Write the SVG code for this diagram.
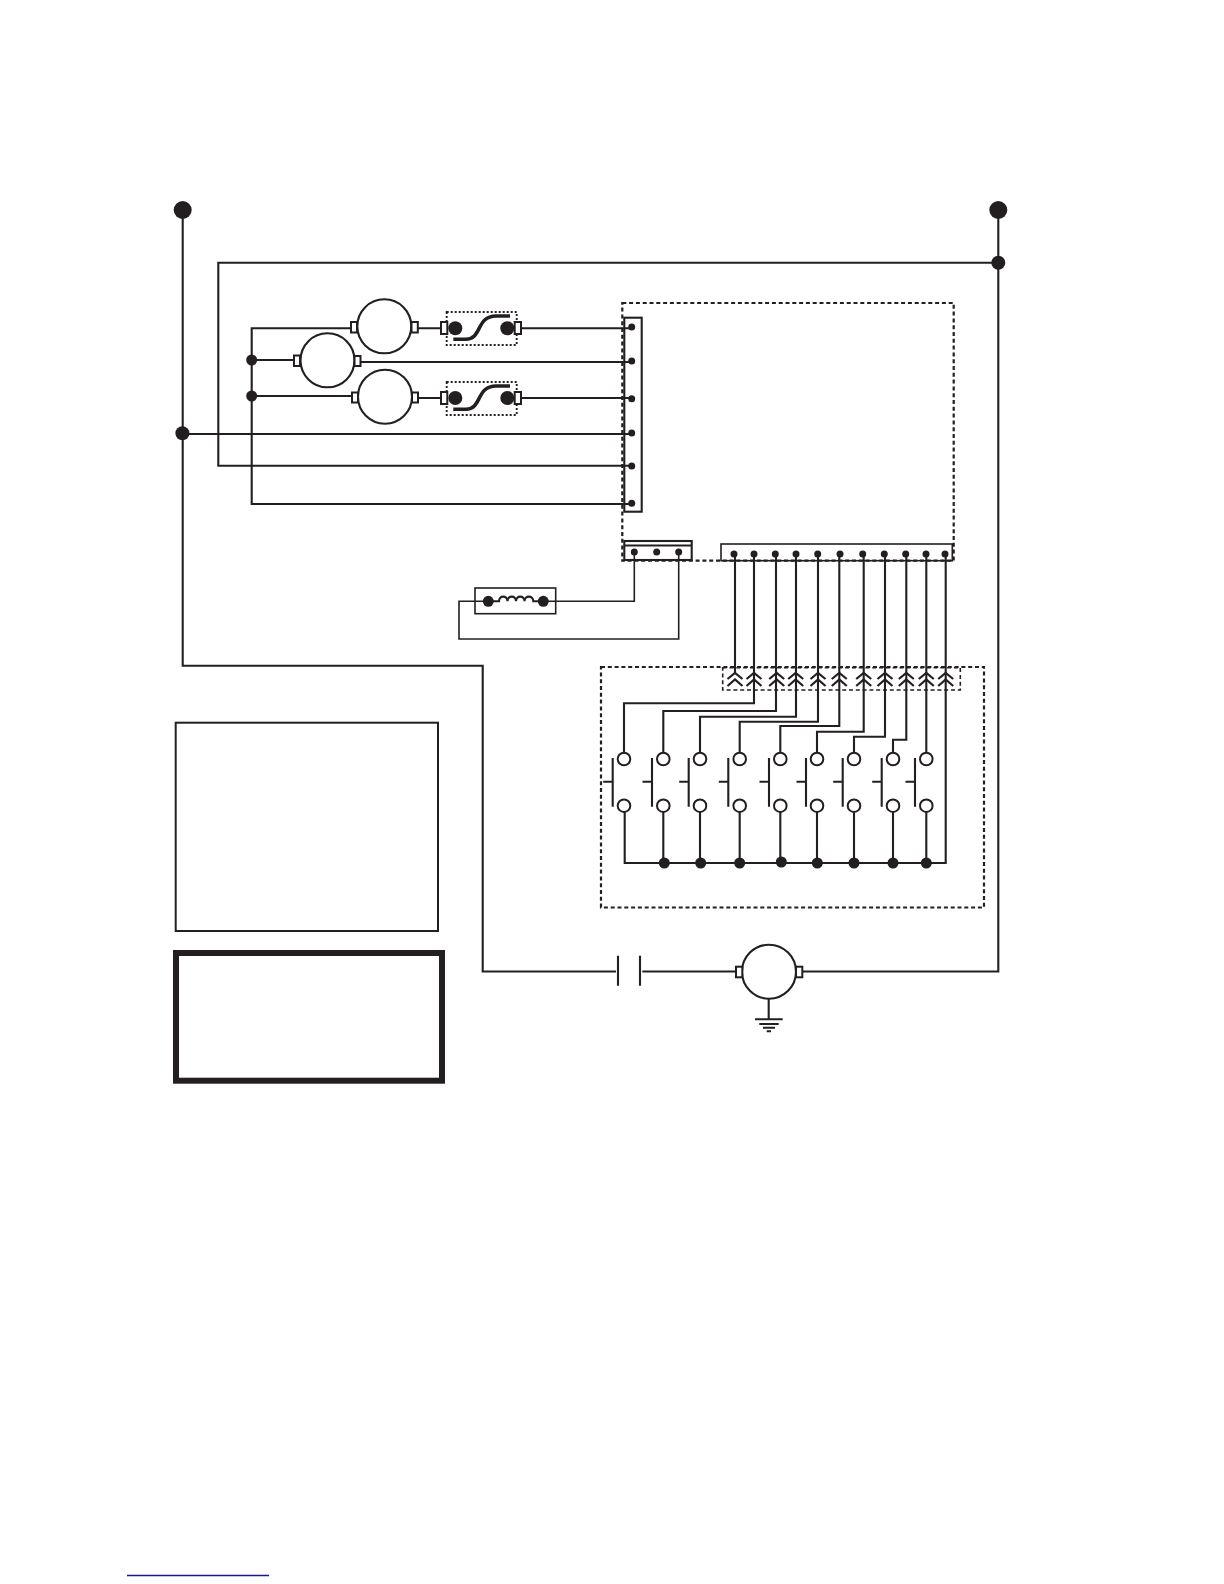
<svg xmlns="http://www.w3.org/2000/svg" width="1224" height="1584" viewBox="0 0 1224 1584">
<style>
.w{fill:none;stroke:#231f20;stroke-width:2.1}
.t{fill:none;stroke:#231f20;stroke-width:1.6}
.m{fill:#fff;stroke:#231f20;stroke-width:2.1}
.p{fill:#fff;stroke:#231f20;stroke-width:2}
.d{fill:#231f20;stroke:none}
.ds{fill:none;stroke:#231f20;stroke-width:2.2;stroke-dasharray:4 2.8}
.dt{fill:none;stroke:#231f20;stroke-width:1.9;stroke-dasharray:2 2}
.s{fill:none;stroke:#231f20;stroke-width:3.6}
.o{fill:#fff;stroke:#231f20;stroke-width:2}
.c{fill:none;stroke:#231f20;stroke-width:2.2}
</style>
<defs>
<g id="chev"><path class="c" d="M-7.5 6L0 0L7.5 6M-7.5 13L0 6.5L7.5 13"/></g>
<g id="sw"><path class="w" d="M-9.500 22.700H0M0 -1V47.700"/></g>
</defs>
<rect width="1224" height="1584" fill="#fff"/>
<g id="connectors">
<path class="w" d="M182.700 210V665.700H482.700V971.500H616"/>
<path class="w" d="M642.300 971.500H735.700"/>
<path class="w" d="M802.300 971.500H998.300V210"/>
<path class="w" d="M998.300 262.700H218.300V465.700H631.700"/>
<path class="w" d="M182.700 434H631.700"/>
<path class="w" d="M350.700 328.300H251.700V504H631.700"/>
<path class="w" d="M251.700 360H293.700"/>
<path class="w" d="M251.700 396H352"/>
<path class="w" d="M418 328.300H441M521 328.300H631.700"/>
<path class="w" d="M360.300 362H631.700"/>
<path class="w" d="M418.300 398H441M521 398H631.700"/>
<path class="t" d="M634.300 552V601.300H543.300"/>
<path class="t" d="M678.700 552V639H459V601.300H488.300"/>
<path class="w" d="M735 554V673"/>
<path class="w" d="M754 554V703.300H624V752.500"/>
<path class="w" d="M776 554V711H663.300V752.500"/>
<path class="w" d="M796 554V716.700H700V752.500"/>
<path class="w" d="M818 554V721.700H739.700V752.500"/>
<path class="w" d="M839.300 554V726H780.300V752.500"/>
<path class="w" d="M863.700 554V731.700H817V752.500"/>
<path class="w" d="M885 554V736.700H854V752.500"/>
<path class="w" d="M906.300 554V739.700H893V752.500"/>
<path class="w" d="M926.300 554V752.500"/>
<path class="w" d="M945.700 554V863H624.700V812"/>
<path class="w" d="M663.300 812V863M700 812V863M739.700 812V863M780.300 812V863M817 812V863M854 812V863M893 812V863M926.300 812V863"/>
<path class="w" d="M768.700 998.300V1019"/>
</g>
<g id="dashed-enclosures">
<rect class="ds" x="622.300" y="303" width="331.400" height="257.700"/>
<rect class="ds" x="601" y="667" width="383" height="240.500"/>
<rect class="ds" x="722.700" y="667.700" width="237.600" height="22.300" style="stroke-width:1.600"/>
</g>
<g id="source-left"><circle class="d" cx="182.700" cy="210" r="9"/><circle class="d" cx="182.400" cy="433.300" r="7"/></g>
<g id="source-right"><circle class="d" cx="998.300" cy="210" r="9"/><circle class="d" cx="998.300" cy="262.700" r="7"/></g>
<g id="junctions-left"><circle class="d" cx="251.700" cy="360" r="5.500"/><circle class="d" cx="251.700" cy="396" r="5.500"/></g>
<g id="motor-1"><circle class="m" cx="384.300" cy="326.300" r="27"/><rect class="p" x="351" y="322" width="6" height="10.500"/><rect class="p" x="411.500" y="322" width="6.300" height="10.500"/></g>
<g id="motor-2"><circle class="m" cx="327.500" cy="360.300" r="27"/><rect class="p" x="294" y="355.500" width="6" height="10.500"/><rect class="p" x="354.500" y="356" width="6" height="10"/></g>
<g id="motor-3"><circle class="m" cx="385" cy="396.700" r="27"/><rect class="p" x="352" y="392.500" width="6" height="10"/><rect class="p" x="412" y="392.500" width="6" height="10"/></g>
<g id="fuse-1">
<rect class="dt" x="446.700" y="312" width="70" height="33"/>
<rect class="p" x="441" y="322" width="6.300" height="12"/><rect class="p" x="514.700" y="322" width="6.300" height="12"/>
<circle class="d" cx="455.300" cy="328.300" r="7"/><circle class="d" cx="507.300" cy="328.300" r="7"/>
<path class="s" d="M453.300 339.300H466C482 339.300 476 316 496 316H510"/>
</g>
<g id="fuse-2">
<rect class="dt" x="446.700" y="382" width="70" height="33"/>
<rect class="p" x="441" y="392" width="6.300" height="12"/><rect class="p" x="514.700" y="392" width="6.300" height="12"/>
<circle class="d" cx="455.300" cy="398" r="7"/><circle class="d" cx="507.300" cy="398" r="7"/>
<path class="s" d="M453.300 409.300H466C482 409.300 476 386 496 386H510"/>
</g>
<g id="terminal-strip">
<rect class="w" x="624.300" y="317.700" width="17.400" height="194"/>
<circle class="d" cx="631.700" cy="327" r="3.500"/><circle class="d" cx="631.700" cy="361" r="3.500"/><circle class="d" cx="631.700" cy="398.700" r="3.500"/><circle class="d" cx="631.700" cy="433" r="3.500"/><circle class="d" cx="631.700" cy="466" r="3.500"/><circle class="d" cx="631.700" cy="503.300" r="3.500"/>
</g>
<g id="connector-small">
<rect class="w" x="624.300" y="541" width="67.400" height="19"/>
<path class="w" d="M624.300 545.500H691.700"/>
<circle class="d" cx="634.300" cy="552" r="3.500"/><circle class="d" cx="656.700" cy="552" r="3.500"/><circle class="d" cx="678.700" cy="552" r="3.500"/>
</g>
<g id="connector-large">
<rect class="t" x="721" y="544" width="231.300" height="16.700"/>
<circle class="d" cx="734" cy="554" r="3.500"/><circle class="d" cx="754" cy="554" r="3.500"/><circle class="d" cx="775.300" cy="554" r="3.500"/><circle class="d" cx="796" cy="554" r="3.500"/><circle class="d" cx="817.700" cy="554" r="3.500"/><circle class="d" cx="840" cy="554" r="3.500"/><circle class="d" cx="862.700" cy="554" r="3.500"/><circle class="d" cx="884.300" cy="554" r="3.500"/><circle class="d" cx="905.700" cy="554" r="3.500"/><circle class="d" cx="926" cy="554" r="3.500"/><circle class="d" cx="945" cy="554" r="3.500"/>
</g>
<g id="coil">
<rect class="t" x="475" y="588" width="80.700" height="25.700"/>
<circle class="d" cx="488.300" cy="601.300" r="5.500"/><circle class="d" cx="543.300" cy="601.300" r="5.500"/>
<path class="w" d="M488.300 601.300H499C499 595 507.500 595 507.500 601.300C507.500 595 516 595 516 601.300C516 595 524.500 595 524.500 601.300C524.500 595 533.300 595 533.300 601.300H543.300"/>
</g>
<g id="chevrons">
<use href="#chev" x="735" y="673"/><use href="#chev" x="754" y="673"/><use href="#chev" x="776.700" y="673"/><use href="#chev" x="795.700" y="673"/><use href="#chev" x="818" y="673"/><use href="#chev" x="839.300" y="673"/><use href="#chev" x="863.700" y="673"/><use href="#chev" x="885" y="673"/><use href="#chev" x="906.300" y="673"/><use href="#chev" x="926.300" y="673"/><use href="#chev" x="945.700" y="673"/>
</g>
<g id="switches">
<use href="#sw" x="612.700" y="759"/><use href="#sw" x="652" y="759"/><use href="#sw" x="688.700" y="759"/><use href="#sw" x="728.300" y="759"/><use href="#sw" x="769" y="759"/><use href="#sw" x="806" y="759"/><use href="#sw" x="842.700" y="759"/><use href="#sw" x="881.700" y="759"/><use href="#sw" x="915" y="759"/>
<circle class="o" cx="624" cy="759" r="6.300"/><circle class="o" cx="663.300" cy="759" r="6.300"/><circle class="o" cx="700" cy="759" r="6.300"/><circle class="o" cx="739.700" cy="759" r="6.300"/><circle class="o" cx="780.300" cy="759" r="6.300"/><circle class="o" cx="817" cy="759" r="6.300"/><circle class="o" cx="854" cy="759" r="6.300"/><circle class="o" cx="893" cy="759" r="6.300"/><circle class="o" cx="926.300" cy="759" r="6.300"/>
<circle class="o" cx="624" cy="805.700" r="6.300"/><circle class="o" cx="663.300" cy="805.700" r="6.300"/><circle class="o" cx="700" cy="805.700" r="6.300"/><circle class="o" cx="739.700" cy="805.700" r="6.300"/><circle class="o" cx="780.300" cy="805.700" r="6.300"/><circle class="o" cx="817" cy="805.700" r="6.300"/><circle class="o" cx="854" cy="805.700" r="6.300"/><circle class="o" cx="893" cy="805.700" r="6.300"/><circle class="o" cx="926.300" cy="805.700" r="6.300"/>
<circle class="d" cx="664.300" cy="863" r="5.500"/><circle class="d" cx="700.700" cy="863" r="5.500"/><circle class="d" cx="739.700" cy="863" r="5.500"/><circle class="d" cx="781.300" cy="862" r="5.500"/><circle class="d" cx="817.300" cy="863" r="5.500"/><circle class="d" cx="854" cy="863" r="5.500"/><circle class="d" cx="893" cy="863" r="5.500"/><circle class="d" cx="926.300" cy="863" r="5.500"/>
</g>
<g id="contactor"><path class="w" d="M618 955.700V985.700M640 955.700V985.700"/></g>
<g id="motor-4"><circle class="m" cx="769" cy="971.700" r="27"/><rect class="p" x="736" y="966.700" width="6.300" height="10.600"/><rect class="p" x="796" y="966.700" width="6.300" height="10.600"/></g>
<g id="ground"><path class="w" d="M755 1019.300H782.700M759.300 1024H778.700M763 1027.700H775M766.700 1031.300H771"/></g>
<rect id="box-1" x="175.700" y="722.700" width="262.300" height="208.300" fill="none" stroke="#231f20" stroke-width="2"/>
<rect id="box-2" x="176" y="953" width="266" height="127.700" fill="none" stroke="#231f20" stroke-width="6"/>
<path id="underline" d="M127 1575.500H269" stroke="#1a1a8c" stroke-width="1.500" fill="none"/>
</svg>
